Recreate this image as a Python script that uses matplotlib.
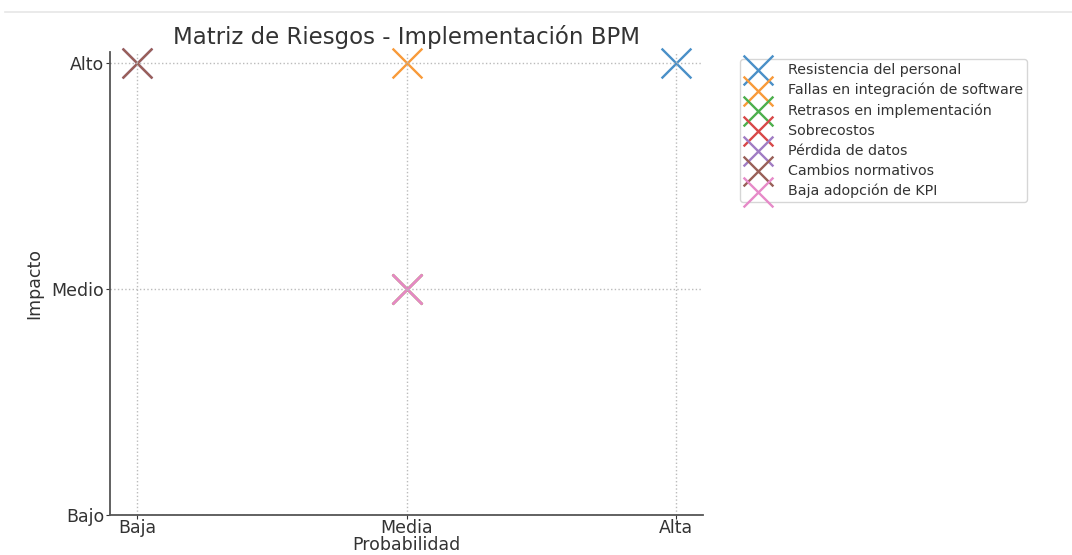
import matplotlib
matplotlib.use('Agg')
import matplotlib.pyplot as plt
from matplotlib.lines import Line2D

# risk matrix data
riesgos = ["Resistencia del personal", "Fallas en integración de software",
           "Retrasos en implementación", "Sobrecostos", "Pérdida de datos",
           "Cambios normativos", "Baja adopción de KPI"]
probabilidad = ["Alta", "Media", "Media", "Media", "Baja", "Baja", "Media"]
impacto = ["Alto", "Alto", "Medio", "Medio", "Alto", "Alto", "Medio"]

prob_levels = ["Baja", "Media", "Alta"]
imp_levels = ["Bajo", "Medio", "Alto"]

# tab10, slightly softened like the reference
colores = ["#4a90c8", "#f89a3a", "#4caf4c", "#d84848", "#a07cc4", "#996058", "#e68ac8"]

fig = plt.figure(figsize=(10.72, 5.55), dpi=100)
ax = fig.add_axes([0.1026, 0.0721, 0.5535, 0.8339])

for r, p, i, c in zip(riesgos, probabilidad, impacto, colores):
    ax.scatter(prob_levels.index(p), imp_levels.index(i), marker="x", s=460, linewidths=1.7,
               color=c, clip_on=False, label=r)

ax.set_xticks(range(len(prob_levels)))
ax.set_xticklabels(prob_levels)
ax.set_yticks(range(len(imp_levels)))
ax.set_yticklabels(imp_levels)
ax.tick_params(labelsize=12.5, colors="#333333", length=3, pad=1)
ax.tick_params(axis="x", pad=0)
ax.set_xlabel("Probabilidad", fontsize=12.5, color="#333333", labelpad=-1)
ax.set_ylabel("Impacto", fontsize=12.5, color="#333333", labelpad=6)
ax.set_title("Matriz de Riesgos - Implementación BPM", fontsize=16.5, color="#333333", pad=6)
ax.grid(True, linestyle=":", color="#bbbbbb", linewidth=1)
for side in ["top", "right"]:
    ax.spines[side].set_visible(False)
for side in ["left", "bottom"]:
    ax.spines[side].set_color("#555555")
    ax.spines[side].set_linewidth(1.3)

ax.legend(loc="upper left", bbox_to_anchor=(1.05, 1.0), fontsize=10.3, labelspacing=0.42,
          handletextpad=1.1, borderpad=0.25, labelcolor="#333333")

# faint screenshot border at the top
fig.add_artist(Line2D([0.005, 1.0], [0.978, 0.978], color="#e6e6e6", linewidth=1.2))

plt.savefig("out.png", dpi=100)
plt.close()
